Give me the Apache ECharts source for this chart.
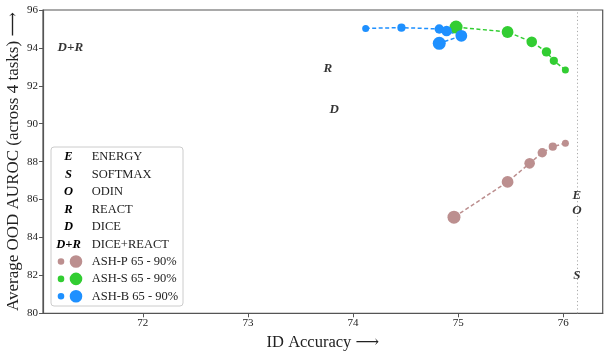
<!DOCTYPE html>
<html><head><meta charset="utf-8">
<script src="https://cdn.jsdelivr.net/npm/echarts@6/dist/echarts.min.js"></script>
<style>html,body{margin:0;padding:0;background:#fff}#c{width:609px;height:355px}</style>
</head><body><div id="c"></div>
<script>
// ---- data ----
const xTickValues = [72, 73, 74, 75, 76];
const yTickValues = [80, 82, 84, 86, 88, 90, 92, 94, 96];
const baselineAcc = 76.13;

const methodNames = ['ENERGY', 'SOFTMAX', 'ODIN', 'REACT', 'DICE', 'DICE+REACT'];
const methodSymbols = ['E', 'S', 'O', 'R', 'D', 'D+R'];
const methodAcc = [76.13, 76.13, 76.13, 73.76, 73.82, 71.31];
const methodAuroc = [86.19, 81.98, 85.41, 92.93, 90.77, 94.02];

const ashPercentiles = [65, 70, 75, 80, 85, 90];
const ashPAcc = [76.02, 75.90, 75.80, 75.68, 75.47, 74.96];
const ashPAuroc = [88.97, 88.79, 88.47, 87.91, 86.93, 85.07];
const ashSAcc = [76.02, 75.91, 75.84, 75.70, 75.47, 74.98];
const ashSAuroc = [92.84, 93.32, 93.79, 94.32, 94.84, 95.10];
const ashBAcc = [74.12, 74.46, 74.82, 74.89, 75.03, 74.82];
const ashBAuroc = [95.03, 95.07, 95.00, 94.89, 94.64, 94.24];

const ashNames = ['ASH-P 65 - 90%', 'ASH-S 65 - 90%', 'ASH-B 65 - 90%'];
const ashColors = ['#BC8F8F', '#32CD32', '#1E90FF'];

// ---- build ----
const SERIF = '"Liberation Serif", "DejaVu Serif", serif';
const zip = (a, b) => a.map((v, i) => [v, b[i]]);
const sizeFor = p => 7 + (p - 65) * 0.24;

const series = [];
methodNames.forEach((n, i) => {
  const s = {
    name: n, type: 'scatter', z: 5,
    data: [[methodAcc[i], methodAuroc[i]]],
    symbolSize: 1,
    itemStyle: { color: 'rgba(0,0,0,0)' },
    label: {
      show: true, position: 'inside', formatter: methodSymbols[i],
      fontFamily: SERIF, fontStyle: 'italic', fontWeight: 'bold', fontSize: 13, color: '#000'
    },
    emphasis: { disabled: true }, silent: true
  };
  if (i === 0) {
    s.markLine = {
      silent: true, symbol: 'none', label: { show: false },
      lineStyle: { type: [1.2, 2.5], color: '#aaa', width: 1 },
      data: [{ xAxis: baselineAcc }]
    };
  }
  series.push(s);
});
const ashData = [[ashPAcc, ashPAuroc], [ashSAcc, ashSAuroc], [ashBAcc, ashBAuroc]];
ashNames.forEach((n, k) => {
  series.push({
    name: n, type: 'line', z: 3,
    data: zip(ashData[k][0], ashData[k][1]),
    symbol: 'circle',
    symbolSize: (v, p) => sizeFor(ashPercentiles[p.dataIndex]),
    showSymbol: true,
    itemStyle: { color: ashColors[k], opacity: 1 },
    lineStyle: { color: ashColors[k], width: 1.5, type: [4, 2.5] },
    emphasis: { disabled: true }, silent: true
  });
});

const symMap = {};
methodNames.forEach((n, i) => symMap[n] = methodSymbols[i]);

const twoDots = 'path://M0,6.3A3.3,3.3 0 1,0 6.6,6.3A3.3,3.3 0 1,0 0,6.3Z M12,6.3A6.3,6.3 0 1,0 24.6,6.3A6.3,6.3 0 1,0 12,6.3Z';

const option = {
  animation: false,
  backgroundColor: '#fff',
  grid: { left: 43, right: 6.3, top: 10, bottom: 41.7, show: true, borderColor: '#555', borderWidth: 1.2, containLabel: false, outerBoundsMode: 'none' },
  xAxis: {
    type: 'value', min: 71.05, max: 76.375,
    name: 'ID Accuracy \u27F6', nameLocation: 'middle', nameGap: 21, nameMoveOverlap: false,
    nameTextStyle: { fontFamily: SERIF, fontSize: 16.5, color: '#222' },
    axisLine: { show: true, lineStyle: { color: '#555', width: 1.2 } },
    axisTick: { show: true, inside: false, length: 4, lineStyle: { color: '#555' }, customValues: xTickValues },
    axisLabel: { customValues: xTickValues, fontFamily: SERIF, fontSize: 11, color: '#222', margin: 4 },
    splitLine: { show: false }
  },
  yAxis: {
    type: 'value', min: 80, max: 96, interval: 2,
    name: 'Average OOD AUROC (across 4 tasks) \u27F6', nameLocation: 'middle', nameGap: 21, nameMoveOverlap: false,
    nameTextStyle: { fontFamily: SERIF, fontSize: 17, color: '#222' },
    axisLine: { show: true, lineStyle: { color: '#555', width: 1.2 } },
    axisTick: { show: true, inside: false, length: 4, lineStyle: { color: '#555' } },
    axisLabel: { fontFamily: SERIF, fontSize: 11, color: '#222', margin: 5 },
    splitLine: { show: false }
  },
  graphic: [{
    type: 'rect', z: 3,
    shape: { x: 51, y: 147, width: 132, height: 159, r: 3 },
    style: { fill: 'rgba(255,255,255,0.85)', stroke: '#ccc', lineWidth: 1 }
  }],
  legend: [{
    orient: 'vertical', left: 40.3, top: 150, padding: 0,
    itemWidth: 0, itemHeight: 14, itemGap: 4.0, icon: 'none',
    selectedMode: false,
    data: methodNames.map(n => ({ name: n, icon: 'none' })),
    formatter: n => '{s|' + symMap[n] + '}{t|' + n + '}',
    textStyle: {
      rich: {
        s: { fontFamily: SERIF, fontStyle: 'italic', fontWeight: 'bold', fontSize: 12.5, width: 46.4, align: 'center', color: '#000', lineHeight: 14 },
        t: { fontFamily: SERIF, fontSize: 12.5, color: '#222', lineHeight: 14 }
      }
    }
  }, {
    orient: 'vertical', left: 57.7, top: 255, padding: 0,
    itemWidth: 24.6, itemHeight: 12.6, itemGap: 4.4,
    selectedMode: false,
    data: ashNames.map(n => ({ name: n, icon: twoDots })),
    formatter: n => '{g| }{t|' + n + '}',
    textStyle: {
      rich: {
        g: { width: 4.4, fontSize: 12, lineHeight: 14 },
        t: { fontFamily: SERIF, fontSize: 12.5, color: '#222', lineHeight: 14 }
      }
    }
  }],
  series: series
};
const chart = echarts.init(document.getElementById('c'), null, { renderer: 'canvas' });
chart.setOption(option);
</script>
</body></html>
